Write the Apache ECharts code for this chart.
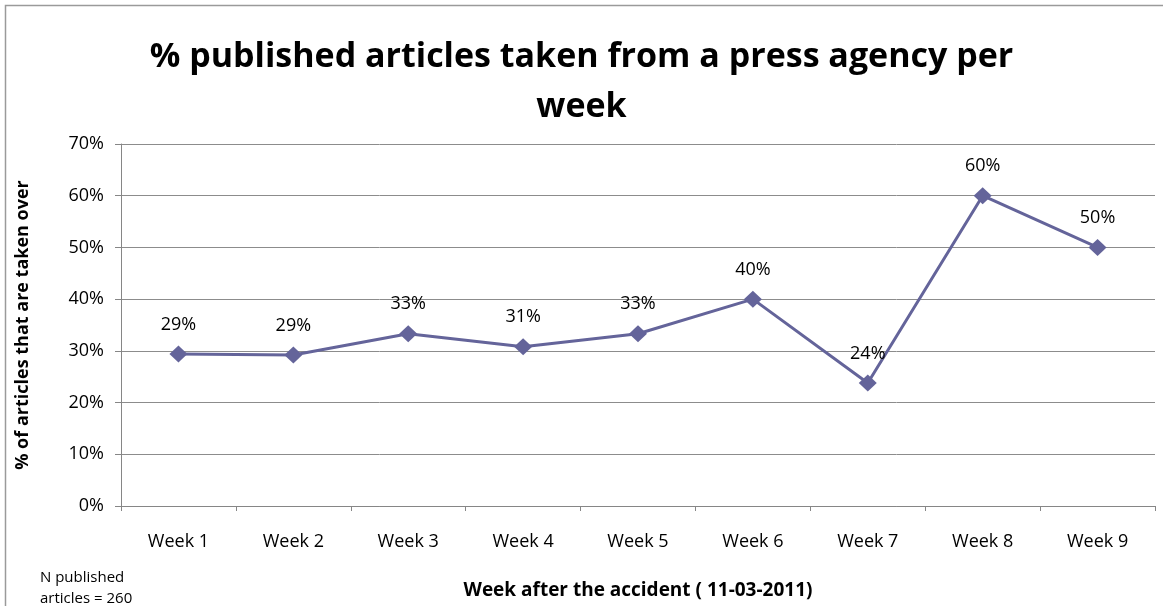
<!DOCTYPE html>
<html>
<head>
<meta charset="utf-8">
<script src="https://cdn.jsdelivr.net/npm/echarts@6/dist/echarts.min.js"></script>
<style>
html,body{margin:0;padding:0;background:#fff;}
#c{width:1163px;height:606px;}
</style>
</head>
<body>
<div id="c"></div>
<script>
var categories = ['Week 1','Week 2','Week 3','Week 4','Week 5','Week 6','Week 7','Week 8','Week 9'];
var values = [0.294, 0.292, 0.333, 0.308, 0.333, 0.400, 0.238, 0.600, 0.500];
var yTicks = [0, 0.1, 0.2, 0.3, 0.4, 0.5, 0.6, 0.7];
var titleText = '% published articles taken from a press agency per\nweek';
var xName = 'Week after the accident ( 11-03-2011)';
var yName = '% of articles that are taken over';
var noteText = 'N published\narticles = 260';

var FONT = '"Open Sans", "Noto Sans", sans-serif';
var chart = echarts.init(document.getElementById('c'), null, {renderer:'canvas'});
chart.setOption({
  animation: false,
  backgroundColor: '#fff',
  title: {
    text: titleText,
    left: 'center', top: 27,
    textStyle: {fontFamily: FONT, fontWeight: 'bold', fontSize: 34, color: '#000', lineHeight: 50}
  },
  graphic: [
    {type:'rect', shape:{x:5.5, y:5.5, width:1200, height:700}, style:{fill:'none', stroke:'#9a9a9a', lineWidth:1.5}, silent:true},
    {type:'text', left: 40, top: 567, style:{text: noteText, font: '15px ' + FONT, fill:'#000', lineHeight: 21}}
  ],
  grid: {left: 121, right: 8, top: 144, bottom: 100, containLabel: false},
  xAxis: {
    type: 'category',
    data: categories,
    boundaryGap: true,
    name: xName,
    nameLocation: 'middle',
    nameGap: 75,
    nameTextStyle: {fontFamily: FONT, fontWeight: 'bold', fontSize: 19, color: '#000'},
    axisLine: {lineStyle: {color: '#868686', width: 1}},
    axisTick: {show: true, alignWithLabel: false, length: 5, lineStyle: {color: '#868686'}},
    axisLabel: {fontFamily: FONT, fontSize: 18, color: '#000', margin: 27}
  },
  yAxis: {
    type: 'value',
    min: 0, max: 0.7, interval: 0.1,
    name: yName,
    nameLocation: 'middle',
    nameGap: 89,
    nameTextStyle: {fontFamily: FONT, fontWeight: 'bold', fontSize: 18, color: '#000'},
    axisLine: {show: true, lineStyle: {color: '#868686', width: 1}},
    axisTick: {show: true, length: 6, lineStyle: {color: '#868686'}},
    axisLabel: {fontFamily: FONT, fontSize: 18, color: '#000', margin: 17,
      formatter: function(v){ return Math.round(v*100) + '%'; }},
    splitLine: {show: true, lineStyle: {color: '#8c8c8c', width: 1}}
  },
  series: [{
    type: 'line',
    data: values,
    symbol: 'diamond',
    symbolSize: [18, 17],
    lineStyle: {color: '#64649a', width: 3},
    itemStyle: {color: '#64649a'},
    label: {
      show: true, position: 'top', distance: 12,
      fontFamily: FONT, fontSize: 18, color: '#000',
      formatter: function(p){ return Math.round(p.value*100) + '%'; }
    }
  }]
});
</script>
</body>
</html>
